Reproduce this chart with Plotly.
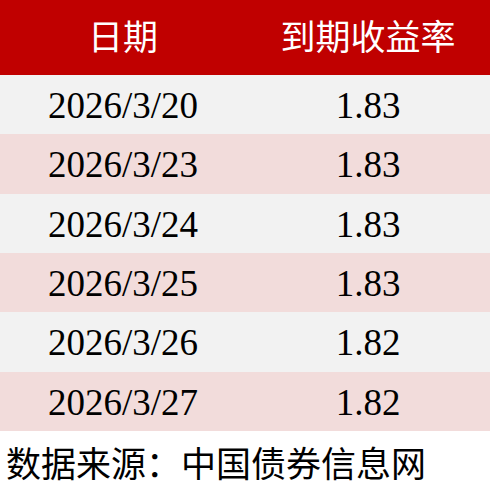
import plotly.graph_objects as go

headers = ["日期", "到期收益率"]
dates = ["2026/3/20", "2026/3/23", "2026/3/24", "2026/3/25", "2026/3/26", "2026/3/27"]
yields = ["1.83", "1.83", "1.83", "1.83", "1.82", "1.82"]
source = "数据来源：中国债券信息网"

W, H = 490, 500
HEADER_H = 75
ROW_H = 59.4
HEADER_BG = "#C00000"
ROW_COLORS = ["#F2F2F2", "#F2DCDB"]

n = len(dates)
col_edges = [0, W / 2, W]
header_edges = [0, HEADER_H]
row_edges = [HEADER_H + i * ROW_H for i in range(n + 1)]

fig = go.Figure()

# header row
fig.add_trace(go.Heatmap(
    x=col_edges, y=header_edges,
    z=[[0, 0]],
    text=[headers],
    texttemplate="%{text}",
    textfont=dict(family="Noto Sans CJK SC", size=35, color="white"),
    colorscale=[[0, HEADER_BG], [1, HEADER_BG]],
    zmin=0, zmax=1, showscale=False, hoverinfo="skip",
))

# body rows
fig.add_trace(go.Heatmap(
    x=col_edges, y=row_edges,
    z=[[i % 2, i % 2] for i in range(n)],
    text=[[d, v] for d, v in zip(dates, yields)],
    texttemplate="%{text}",
    textfont=dict(family="Liberation Serif", size=37, color="black"),
    colorscale=[[0, ROW_COLORS[0]], [1, ROW_COLORS[1]]],
    zmin=0, zmax=1, showscale=False, hoverinfo="skip",
))

fig.add_annotation(
    text=source,
    xref="paper", yref="paper",
    x=0.008, y=(H - 461) / H,
    xanchor="left", yanchor="middle",
    showarrow=False,
    font=dict(family="Noto Sans CJK SC", size=35, color="black"),
)

fig.update_xaxes(range=[0, W], visible=False, fixedrange=True)
fig.update_yaxes(range=[H, 0], visible=False, fixedrange=True)
fig.update_layout(
    width=W, height=H,
    margin=dict(l=0, r=0, t=0, b=0),
    paper_bgcolor="white",
    plot_bgcolor="white",
    showlegend=False,
)

fig.write_html(
    "out.html",
    config={"displayModeBar": False},
    post_script="document.body.style.margin='0';document.body.style.overflow='hidden';",
)
